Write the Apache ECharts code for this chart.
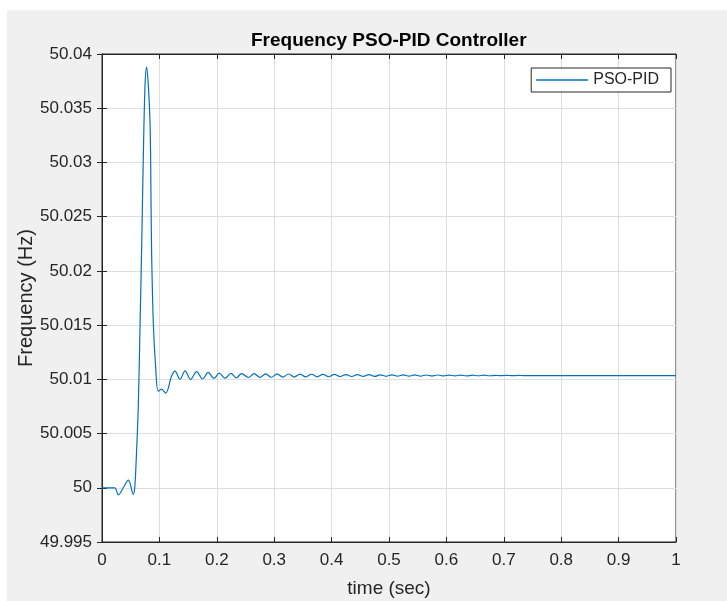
<!DOCTYPE html>
<html>
<head>
<meta charset="utf-8">
<script src="https://cdn.jsdelivr.net/npm/echarts@6/dist/echarts.min.js"></script>
<style>
  body { margin: 0; background: #fff; }
  #wrap { position: relative; width: 727px; height: 601px; }
  #fig { position: absolute; left: 7px; top: 10px; width: 720px; height: 591px; background: #f0f0f0; }
  #main { position: absolute; left: 0; top: 0; width: 727px; height: 601px; }
</style>
</head>
<body>
<div id="wrap">
  <div id="fig"></div>
  <div id="main"></div>
</div>
<script>
// time (sec) and frequency (Hz)
var timeSec = [
  0, 0.022, 0.0285, 0.037, 0.0459, 0.0546, 0.057, 0.0592, 0.0632, 0.0662,
  0.0691, 0.0718, 0.0749, 0.0778, 0.0806, 0.0836, 0.0848, 0.0862, 0.0894, 0.0934,
  0.0981, 0.1039, 0.1109, 0.1213, 0.1272, 0.1359, 0.1446, 0.1545, 0.1648, 0.1752,
  0.1852, 0.195, 0.2043, 0.2143, 0.2247, 0.234, 0.2433, 0.255, 0.265, 0.275,
  0.285, 0.295, 0.305, 0.315, 0.325, 0.335, 0.345, 0.355, 0.365, 0.375,
  0.385, 0.395, 0.405, 0.415, 0.425, 0.435, 0.445, 0.455, 0.465, 0.475,
  0.485, 0.495, 0.505, 0.515, 0.525, 0.535, 0.545, 0.555, 0.565, 0.575,
  0.585, 0.595, 0.605, 0.615, 0.625, 0.635, 0.645, 0.655, 0.665, 0.675,
  0.685, 0.695, 0.705, 0.715, 0.725, 0.735, 0.75, 1.0
];
var freqHz = [
  50, 50, 49.99934, 50.0000, 50.0007, 49.9994, 50.0000, 50.0021, 50.0075, 50.0148,
  50.0222, 50.0300, 50.0370, 50.0388, 50.0372, 50.0338, 50.0300, 50.0225, 50.0152, 50.0112,
  50.0089, 50.0091, 50.00873, 50.0103, 50.01075, 50.0100, 50.01078, 50.0100, 50.01072, 50.01003,
  50.01064, 50.01008, 50.01058, 50.01011, 50.01055, 50.01014, 50.01053, 50.01017, 50.01052, 50.01018,
  50.01051, 50.01019, 50.0105, 50.0102, 50.01049, 50.01021, 50.01048, 50.01022, 50.01047, 50.01023,
  50.01046, 50.01024, 50.01045, 50.01025, 50.01044, 50.01026, 50.01044, 50.01027, 50.01043, 50.01027,
  50.01042, 50.01028, 50.01042, 50.01029, 50.01041, 50.01029, 50.01041, 50.0103, 50.0104, 50.01031,
  50.0104, 50.01031, 50.01039, 50.01032, 50.01039, 50.01032, 50.01038, 50.01033, 50.01038, 50.01033,
  50.01037, 50.01034, 50.01037, 50.01034, 50.01036, 50.01035, 50.01035, 50.01035
];

var fontFam = '"Liberation Sans", Arial, sans-serif';
var chart = echarts.init(document.getElementById('main'));

var boxAxis = {
  axisLine: { show: true, lineStyle: { color: '#262626', width: 1 } },
  axisTick: { show: true, inside: true, length: 5, lineStyle: { color: '#262626' } },
  axisLabel: { show: false },
  splitLine: { show: false }
};

var option = {
  animation: false,
  title: {
    text: 'Frequency PSO-PID Controller',
    left: 246,
    top: 26,
    textStyle: { fontFamily: fontFam, fontSize: 19, fontWeight: 'bold', color: '#000' }
  },
  legend: {
    data: [{ name: 'PSO-PID', icon: 'rect' }],
    right: 56,
    top: 68,
    itemWidth: 52,
    itemHeight: 1.3,
    padding: [4, 12, 4, 5],
    backgroundColor: '#fff',
    borderColor: '#262626',
    borderWidth: 1,
    borderRadius: 0,
    textStyle: { fontFamily: fontFam, fontSize: 16, color: '#262626' }
  },
  grid: {
    left: 102, right: 51, top: 54, bottom: 59,
    outerBoundsMode: 'none',
    show: true, backgroundColor: '#fff', borderColor: '#262626', borderWidth: 1
  },
  xAxis: [{
    type: 'value', min: 0, max: 1, interval: 0.1,
    name: 'time (sec)', nameLocation: 'middle', nameGap: 37, nameMoveOverlap: false,
    nameTextStyle: { fontFamily: fontFam, fontSize: 19, color: '#262626' },
    axisLine: { show: true, lineStyle: { color: '#262626' } },
    axisTick: { show: true, inside: true, length: 5, lineStyle: { color: '#262626' } },
    axisLabel: {
      fontFamily: fontFam, fontSize: 17, color: '#262626', margin: 10,
      formatter: function (v) { return String(parseFloat(v.toFixed(2))); }
    },
    splitLine: { show: true, lineStyle: { color: '#dedede', width: 1 } }
  }, Object.assign({ type: 'value', min: 0, max: 1, interval: 0.1, position: 'top' }, boxAxis)],
  yAxis: [{
    type: 'value', min: 49.995, max: 50.04, interval: 0.005,
    name: 'Frequency (Hz)', nameLocation: 'middle', nameGap: 66, nameRotate: 90, nameMoveOverlap: false,
    nameTextStyle: { fontFamily: fontFam, fontSize: 20, color: '#262626' },
    axisLine: { show: true, lineStyle: { color: '#262626' } },
    axisTick: { show: true, inside: true, length: 5, lineStyle: { color: '#262626' } },
    axisLabel: {
      fontFamily: fontFam, fontSize: 17, color: '#262626', margin: 10,
      formatter: function (v) { return String(parseFloat(v.toFixed(4))); }
    },
    splitLine: { show: true, lineStyle: { color: '#dedede', width: 1 } }
  }, Object.assign({ type: 'value', min: 49.995, max: 50.04, interval: 0.005, position: 'right' }, boxAxis)],
  series: [{
    name: 'PSO-PID',
    type: 'line',
    xAxisIndex: 0,
    yAxisIndex: 0,
    smooth: 0.35,
    symbol: 'none',
    itemStyle: { color: '#0072BD' },
    lineStyle: { color: '#0072BD', width: 1.2 },
    data: timeSec.map(function (t, i) { return [t, freqHz[i]]; })
  }]
};

chart.setOption(option);
</script>
</body>
</html>
